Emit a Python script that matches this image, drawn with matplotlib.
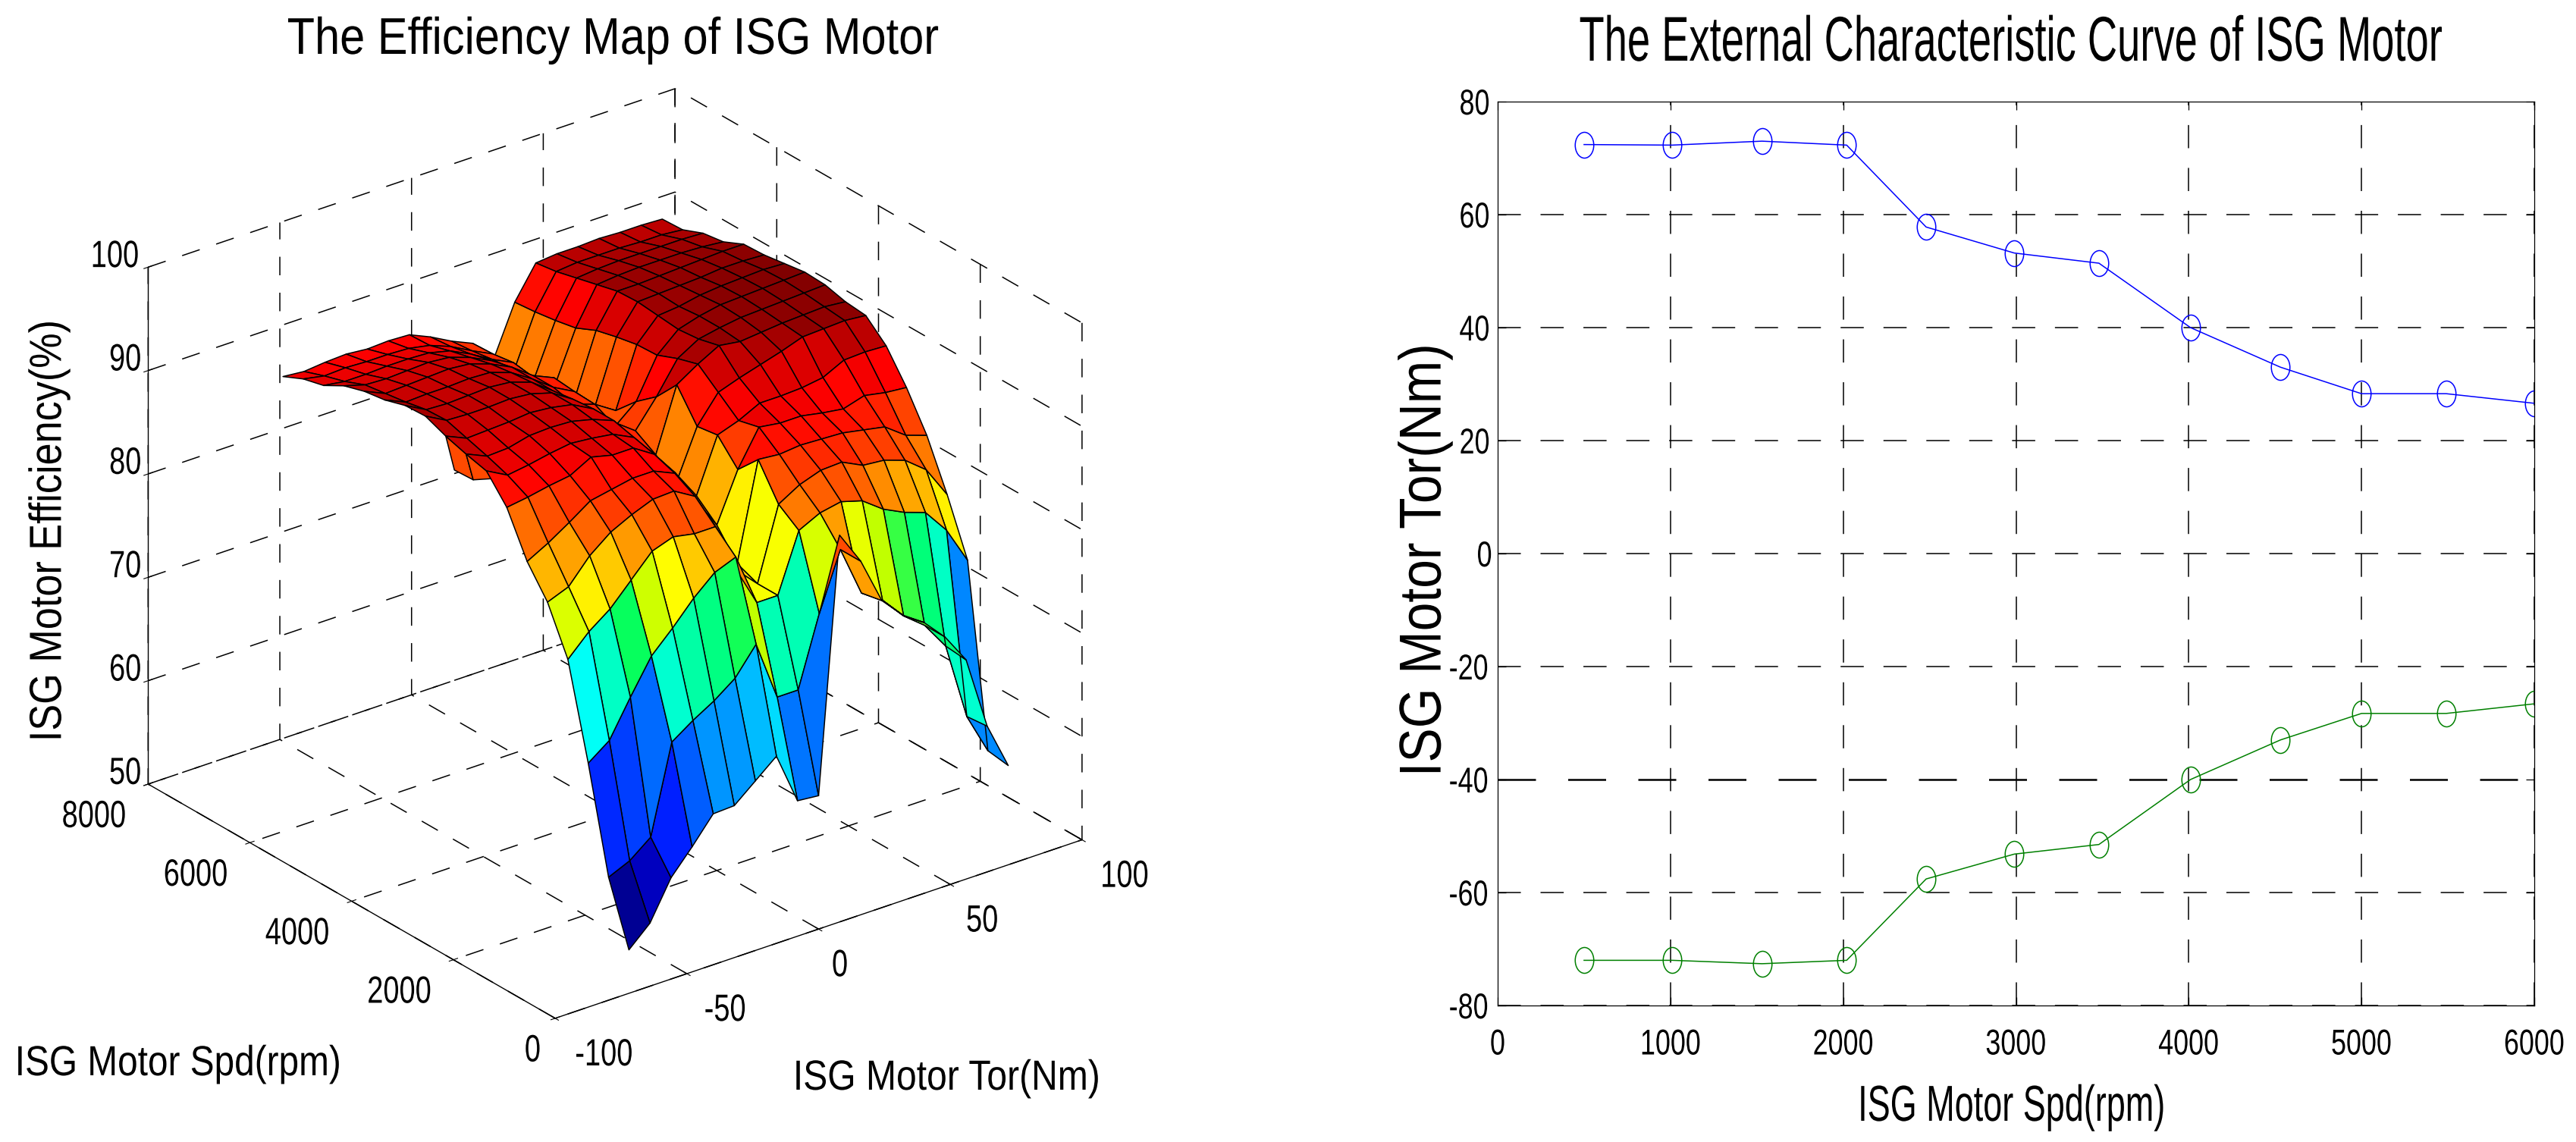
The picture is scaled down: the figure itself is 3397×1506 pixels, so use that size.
# Efficiency map and external characteristic curve of the ISG motor
import numpy as np
import matplotlib
matplotlib.use('Agg')
import matplotlib.pyplot as plt
from matplotlib.colors import LinearSegmentedColormap
from matplotlib.path import Path
from matplotlib.patheffects import AbstractPathEffect
from matplotlib.ticker import FixedLocator
from matplotlib.transforms import Affine2D, Bbox

W, H = 3397, 1506

plt.rcParams['font.family'] = ['Liberation Sans', 'DejaVu Sans']
plt.rcParams['axes.unicode_minus'] = False
plt.rcParams['grid.linestyle'] = (0, (16, 15))
plt.rcParams['grid.linewidth'] = 1.1
plt.rcParams['grid.color'] = 'black'

# %%
# Efficiency map, torque across, speed down
tor_map = [-72, -64, -56, -48, -40, -32, -24, -16, -8, 0, 8, 16, 24, 32, 40, 48, 56, 64, 72]
spd_map = [0, 400, 800, 1200, 1600, 2000, 2400, 2800, 3200, 3600, 4000, 4400, 4800, 5200, 5600, 6000, 6400, 6800]
eff_map = [
    [54.2, 56.1, 59.8, 62.1, 64.6, 64.7, 66.4, 68.1, 63.1, 62.9, 87.4, 84.2, 79.7, 77.6, 76.2, 74.1, 71.2, 64.1, 59.6],
    [60.1, 61.0, 62.6, 71.1, 72.5, 73.7, 75.2, 77.8, 72.0, 72.0, 78.7, 84.2, 79.3, 77.9, 75.7, 74.1, 71.4, 63.9, 59.9],
    [70.0, 71.5, 75.0, 78.3, 80.3, 82.5, 84.3, 85.1, 80.0, 80.0, 85.6, 86.6, 87.0, 86.4, 84.9, 83.9, 83.2, 80.8, 77.2],
    [78.9, 80.9, 82.4, 84.5, 86.6, 87.3, 86.9, 86.9, 82.0, 80.0, 87.0, 88.2, 88.9, 89.0, 88.0, 87.8, 87.1, 85.5, 82.4],
    [83.3, 84.1, 86.4, 88.0, 89.0, 89.8, 89.9, 88.7, 85.0, 80.8, 90.2, 90.0, 90.2, 90.1, 90.0, 89.6, 89.2, 87.7, 87.0],
    [86.1, 87.2, 88.5, 89.9, 90.3, 90.7, 90.7, 89.8, 86.5, 83.4, 88.1, 91.5, 91.2, 91.2, 90.8, 90.5, 91.1, 90.7, 90.5],
    [90.2, 90.5, 90.9, 91.2, 92.3, 91.8, 91.8, 90.5, 88.0, 85.1, 90.3, 91.0, 92.0, 92.0, 92.1, 92.4, 93.4, 93.5, 93.4],
    [92.6, 91.5, 91.8, 92.2, 92.5, 92.3, 92.0, 91.0, 88.5, 85.2, 90.0, 92.6, 93.3, 93.9, 94.5, 95.2, 95.3, 95.4, 95.2],
    [93.1, 92.2, 92.3, 92.8, 92.9, 92.8, 92.3, 91.5, 89.0, 86.8, 92.9, 94.2, 95.3, 95.0, 95.2, 95.4, 95.5, 95.6, 95.4],
    [93.7, 92.8, 92.9, 93.0, 93.2, 93.0, 92.6, 91.5, 89.5, 88.0, 90.6, 93.6, 94.8, 95.2, 95.5, 95.6, 95.7, 95.8, 95.9],
    [94.5, 93.4, 93.3, 93.3, 93.4, 93.2, 92.6, 91.3, 89.0, 87.3, 89.0, 92.8, 94.6, 95.2, 95.6, 95.7, 95.8, 95.9, 96.0],
    [94.4, 93.3, 93.2, 93.3, 93.4, 93.2, 92.5, 91.0, 89.0, 88.3, 87.0, 92.7, 94.8, 95.0, 95.4, 95.6, 95.7, 95.8, 95.7],
    [93.8, 92.9, 93.0, 93.0, 93.1, 93.0, 92.3, 91.0, 89.5, 88.4, 86.4, 92.3, 95.0, 95.1, 95.2, 95.3, 95.5, 95.5, 95.4],
    [93.5, 92.6, 92.7, 92.8, 92.9, 92.7, 92.0, 91.0, 89.5, 88.6, 86.0, 91.8, 94.9, 94.9, 95.0, 95.1, 95.2, 95.3, 95.3],
    [92.9, 92.3, 92.2, 92.3, 92.4, 92.2, 91.5, 90.5, 89.0, 87.5, 86.0, 90.9, 94.4, 94.6, 94.7, 94.7, 94.7, 94.6, 94.4],
    [91.8, 91.5, 91.5, 91.6, 91.6, 91.5, 91.0, 90.0, 88.8, 87.8, 85.6, 90.5, 93.9, 94.1, 94.2, 94.2, 94.2, 94.2, 94.1],
    [91.3, 90.9, 91.0, 90.9, 90.9, 90.8, 90.4, 89.6, 88.5, 87.5, 85.2, 90.2, 93.4, 93.6, 93.6, 93.6, 93.5, 93.5, 93.3],
    [90.4, 90.2, 90.4, 90.5, 90.3, 90.4, 90.3, 89.4, 88.3, 87.4, 85.2, 90.0, 93.1, 93.3, 93.3, 93.4, 93.3, 93.3, 93.2],
]

# the small flap hanging under the left edge of the map
flap_tor = [[-72, -72, -72], [-72, -72, -72]]
flap_spd = [[2800, 3200, 3600], [2710, 3060, 3430]]
flap_eff = [[92.6, 93.1, 93.7], [92.1, 91.0, 90.9]]

# External characteristic curve
spd_curve = [500, 1010, 1530, 2020, 2480, 2990, 3480, 4010, 4530, 5000, 5490, 6000]
tor_drive = [72.4, 72.3, 73.0, 72.3, 57.8, 53.2, 51.4, 40.0, 33.0, 28.3, 28.3, 26.6]
tor_regen = [-72.0, -72.0, -72.6, -72.0, -57.6, -53.2, -51.5, -40.0, -33.0, -28.3, -28.3, -26.6]

# tick labels
tor_ticks = [-100, -50, 0, 50, 100]
spd_ticks = [0, 2000, 4000, 6000, 8000]
eff_ticks = [50, 60, 70, 80, 90, 100]
curve_x_ticks = [0, 1000, 2000, 3000, 4000, 5000, 6000]
curve_y_ticks = [-80, -60, -40, -20, 0, 20, 40, 60, 80]

# colours of the map from lowest to highest, jet with a harder green
map_colors = [(0.0, '#00008f'), (0.11, '#0000ff'), (0.2, '#0066ff'), (0.28, '#00b0ff'), (0.375, '#00ffff'),
              (0.43, '#00ffb0'), (0.5, '#00ff60'), (0.56, '#b8ff00'), (0.625, '#ffff00'), (0.72, '#ffa000'),
              (0.79, '#ff5000'), (0.875, '#ff0000'), (1.0, '#800000')]
map_cmap = LinearSegmentedColormap.from_list('map_jet', map_colors)


def pivot_of(x0, x1, ha):
    if ha == 'left':
        return x0
    if ha == 'right':
        return x1
    return (x0 + x1) / 2


class Squeeze(AbstractPathEffect):
    """Scale a text sideways around its anchor, the original image is squeezed."""

    def __init__(self, scale, ha='center'):
        super().__init__()
        self.scale = scale
        self.ha = ha

    def draw_path(self, renderer, gc, tpath, affine, rgbFace=None):
        box = tpath.get_extents(affine)
        pivot = pivot_of(box.x0, box.x1, self.ha)
        squeezed = affine + Affine2D().translate(-pivot, 0).scale(self.scale, 1).translate(pivot, 0)
        renderer.draw_path(gc, tpath, squeezed, rgbFace)


def squeeze_text(text, scale, ha='center'):
    """Apply Squeeze and make the reported extent of the text follow it."""
    text.set_path_effects([Squeeze(scale, ha)])
    full_extent = text.get_window_extent

    def squeezed_extent(renderer=None, dpi=None):
        box = full_extent(renderer, dpi)
        pivot = pivot_of(box.x0, box.x1, ha)
        return Bbox.from_extents(pivot + (box.x0 - pivot) * scale, box.y0, pivot + (box.x1 - pivot) * scale, box.y1)

    text.get_window_extent = squeezed_extent


fig = plt.figure(figsize=(W / 100, H / 100), dpi=100, facecolor='white')


def fig_text(x, y, s, size, squeeze, ha='center', **kwargs):
    """Put a text by its anchor, given in image pixels."""
    text = fig.text(x / W, 1 - y / H, s, fontsize=size, ha=ha, va='center', **kwargs)
    squeeze_text(text, squeeze, ha)
    return text


def style_tick_labels(axis, ha=None, va=None):
    for tick in axis.get_major_ticks():
        squeeze_text(tick.label1, 0.76)
        if ha:
            tick.label1.set_ha(ha)
        if va:
            tick.label1.set_va(va)


# %%
# Left plot, positioned so the box corners land where the original has them
ax3 = fig.add_axes([85 / W, 50 / H, 1414 / W, 1414 / H], projection='3d', proj_type='ortho')
ax3.view_init(elev=26.2, azim=-127.5)
ax3.set_box_aspect((876, 882, 760))
ax3.patch.set_alpha(0)

tor_grid, spd_grid = np.meshgrid(tor_map, spd_map)
eff_grid = np.array(eff_map)
face_colors = map_cmap(plt.Normalize(54, 96)(eff_grid))
ax3.plot_surface(tor_grid, spd_grid, eff_grid, facecolors=face_colors, rstride=1, cstride=1,
                 shade=False, edgecolor='black', linewidth=1.1)
ax3.plot_surface(np.array(flap_tor), np.array(flap_spd), np.array(flap_eff), color='#ff4a00',
                 rstride=1, cstride=1, shade=False, edgecolor='black', linewidth=1.1)

ax3.set_xlim(-100, 100, view_margin=0)
ax3.set_ylim(0, 8000, view_margin=0)
ax3.set_zlim(50, 100, view_margin=0)
ax3.xaxis.set_major_locator(FixedLocator(tor_ticks))
ax3.yaxis.set_major_locator(FixedLocator(spd_ticks))
ax3.zaxis.set_major_locator(FixedLocator(eff_ticks))

for axis in (ax3.xaxis, ax3.yaxis, ax3.zaxis):
    axis.set_pane_color((1, 1, 1, 0))
    axis.pane.set_edgecolor('none')
    axis.line.set_color('black')
    axis.line.set_linewidth(1.0)
    axis._axinfo['tick']['inward_factor'] = 0.1
    axis._axinfo['tick']['outward_factor'] = 0.1

ax3.xaxis.set_tick_params(labelsize=36, pad=6)
ax3.yaxis.set_tick_params(labelsize=36, pad=4)
ax3.zaxis.set_tick_params(labelsize=36, pad=-7)

style_tick_labels(ax3.xaxis, ha='left')
style_tick_labels(ax3.yaxis, ha='right')
style_tick_labels(ax3.zaxis, ha='right', va='baseline')

fig_text(808, 53, 'The Efficiency Map of ISG Motor', 49, 0.875)
fig_text(19, 1404, 'ISG Motor Spd(rpm)', 40, 0.86, ha='left')
fig_text(1248, 1423, 'ISG Motor Tor(Nm)', 40, 0.865)
fig_text(65, 700, 'ISG Motor Efficiency(%)', 37.6, 1.14, rotation=90)

# %%
# Right plot
ax2 = fig.add_axes([1975 / W, 1 - 1326 / H, (3342 - 1975) / W, (1326 - 134) / H])

# narrow ellipse as marker, same squeeze as the texts
ring = Path.unit_circle()
ring = Path(ring.vertices * [0.72, 1.0], ring.codes)

ax2.plot(spd_curve, tor_drive, color='#0000ff', linewidth=1.1, marker=ring, markersize=24.5,
         markerfacecolor='none', markeredgewidth=1.1)
ax2.plot(spd_curve, tor_regen, color='#008000', linewidth=1.1, marker=ring, markersize=24.5,
         markerfacecolor='none', markeredgewidth=1.1)

ax2.set_xlim(0, 6000)
ax2.set_ylim(-80, 80)
ax2.set_xticks(curve_x_ticks)
ax2.set_yticks(curve_y_ticks)
ax2.grid(True, linestyle=(0, (20, 17)))
ax2.get_ygridlines()[2].set_linewidth(1.8)
ax2.set_axisbelow(True)
ax2.tick_params(direction='in', length=8, width=0.9, top=True, right=True, labelsize=34)
ax2.tick_params(axis='x', pad=22)
ax2.tick_params(axis='y', pad=3)
style_tick_labels(ax2.xaxis)
style_tick_labels(ax2.yaxis)
for spine in ax2.spines.values():
    spine.set_linewidth(0.9)

fig_text(3222, 58, 'The External Characteristic Curve of ISG Motor', 60, 0.652, ha='right')
fig_text(2652, 1461, 'ISG Motor Spd(rpm)', 48, 0.675)
fig_text(1879, 739, 'ISG Motor Tor(Nm)', 48.8, 1.15, rotation=90)

fig.savefig('out.png', dpi=100)
